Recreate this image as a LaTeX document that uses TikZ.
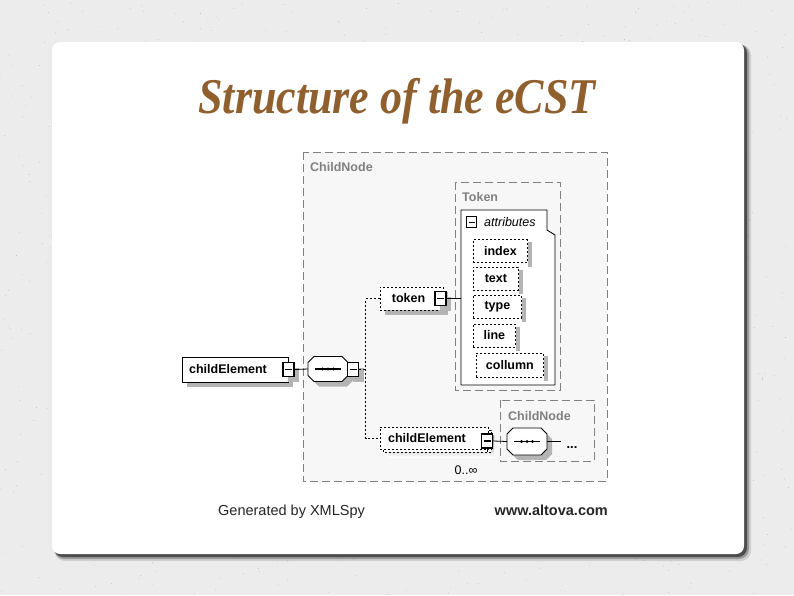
\documentclass[tikz,border=0pt]{standalone}
\usepackage{fontspec}
\setmainfont{Liberation Serif}
\newfontfamily\diafont{Liberation Sans}
\usetikzlibrary{shadows}
\definecolor{bggray}{HTML}{ECECEC}
\definecolor{titlebrown}{HTML}{8F5F2E}
\definecolor{boxgray}{HTML}{808080}
\definecolor{shade}{HTML}{B4B4B4}
\definecolor{areagray}{HTML}{F7F7F7}
\tikzset{
  grpbox/.style={draw=boxgray, dash pattern=on 8pt off 4pt, line width=0.9pt},
  grplabel/.style={text=boxgray, font=\diafont\bfseries\fontsize{12.5}{14}\selectfont, anchor=west, inner sep=0},
  elem/.style={draw=black, fill=white, font=\diafont\bfseries\fontsize{12.5}{14}\selectfont, inner sep=0, line width=0.8pt},
  optelem/.style={elem, dash pattern=on 2pt off 2pt},
  shad/.style={drop shadow={shadow xshift=5pt, shadow yshift=-5pt, fill=shade, opacity=1}},
  minusbox/.style={draw=black, fill=white, line width=1.6pt, minimum width=11pt, minimum height=14pt, inner sep=0,
    path picture={\draw[line width=1.3pt] ([xshift=2pt]path picture bounding box.west) -- ([xshift=-2pt]path picture bounding box.east);}},
  seqbox/.style={inner sep=0, outer sep=0},
  octshad/.style={fill=shade},
  octmain/.style={fill=white, draw=black, line width=0.8pt},
  conn/.style={draw=black, line width=0.8pt},
  dconn/.style={draw=black, line width=0.8pt, dash pattern=on 2pt off 2pt},
  ashad/.style={fill=shade},
}
\begin{document}
\begin{tikzpicture}[x=1pt,y=-1pt]
\useasboundingbox (0,0) rectangle (794,595);
% background with speckles
\fill[bggray] (0,0) rectangle (794,595);
\pgfmathsetseed{7}
\foreach \i in {1,...,900} {
  \fill[gray!55] (rnd*794, rnd*595) circle (0.45pt);
}
% card shadow and card
\fill[black, opacity=0.12, rounded corners=10pt] (55,45) rectangle (751,561);
\fill[black, opacity=0.25, rounded corners=10pt] (54,44) rectangle (749,559);
\fill[black!70, rounded corners=9pt] (54,44) rectangle (747,557);
\fill[white, rounded corners=8pt] (52,42) rectangle (744,554);

% title
\node[anchor=base, text=titlebrown, inner sep=0] (title) at (397,113)
  {\scalebox{0.88}[1]{\fontsize{50}{56}\selectfont\bfseries\itshape Structure of the eCST}};

% outer ChildNode group
\draw[grpbox, fill=areagray] (303,152) rectangle (607,481);
\node[grplabel] (lblChild) at (310,167) {ChildNode};

% Token group
\draw[grpbox] (455,182) rectangle (560,390);
\node[grplabel] (lblToken) at (462,197) {Token};

% attributes container
\draw[line width=0.9pt, fill=white] (461,210) -- (547,210) -- (547,230) -- (555,235) -- (555,385) -- (461,385) -- cycle;
\node[draw=black, fill=white, line width=1.1pt, minimum width=10pt, minimum height=11pt, inner sep=0,
  path picture={\draw[line width=1pt] ([xshift=2pt]path picture bounding box.west) -- ([xshift=-2pt]path picture bounding box.east);}]
  (amin) at (471.5,222) {};
\node[anchor=west, inner sep=0, font=\diafont\itshape\fontsize{12.5}{14}\selectfont] (alabel) at (484,222) {attributes};
\coordinate (attrL) at (461,298.5);

% attribute items
\node[optelem, anchor=west, minimum width=54pt, minimum height=23pt] (aindex) at (473,251) {index};
\node[optelem, anchor=west, minimum width=45pt, minimum height=23pt] (atext) at (473,278.5) {text};
\node[optelem, anchor=west, minimum width=48pt, minimum height=23pt] (atype) at (473,306.5) {type};
\node[optelem, anchor=west, minimum width=42pt, minimum height=23pt] (aline) at (473,335.5) {line};
\node[optelem, anchor=west, minimum width=67pt, minimum height=24pt] (acol) at (476,365) {collumn};
\foreach \a in {aindex,atext,atype,aline,acol} {
  \fill[ashad] ([xshift=0.5pt,yshift=-3pt]\a.north east) rectangle ([xshift=4.5pt,yshift=-4pt]\a.south east);
}

% root element
\node[elem, shad, minimum width=106pt, minimum height=25pt] (root) at (235,369.5) {\hspace*{-14pt}childElement};
\node[minusbox, shad] (m1) at (288.5,369.5) {};

% sequence compositors (octagons drawn around invisible nodes)
\node[seqbox, minimum width=40pt, minimum height=25pt] (s1sh) at (333,374) {};
\node[seqbox, minimum width=40pt, minimum height=25pt] (s1) at (328,369) {};
\node[seqbox, minimum width=40pt, minimum height=27pt] (s2sh) at (532,446.5) {};
\node[seqbox, minimum width=40pt, minimum height=27pt] (s2) at (527,441.5) {};
\foreach \s/\st in {s1sh/octshad, s1/octmain, s2sh/octshad, s2/octmain} {
  \path[\st] ([xshift=6pt]\s.north west) -- ([xshift=-6pt]\s.north east) -- ([yshift=-6pt]\s.north east)
    -- ([yshift=6pt]\s.south east) -- ([xshift=-6pt]\s.south east) -- ([xshift=6pt]\s.south west)
    -- ([yshift=6pt]\s.south west) -- ([yshift=-6pt]\s.north west) -- cycle;
}
\foreach \s in {s1,s2} {
  \draw[line width=1.1pt] ([xshift=-13pt]\s.center) -- ([xshift=13pt]\s.center);
  \foreach \d in {-5.5,0,5.5} \fill ([xshift=\d pt]\s.center) circle (1.6pt);
}
\node[minusbox, shad] (m2) at (353,369.5) {};
\draw[conn] (m1.east) -- (s1.west);
\coordinate (seqJ) at (366,369.5);
\draw[dconn] (m2.east) -- (seqJ);

% token element
\node[optelem, shad, minimum width=63pt, minimum height=23pt] (token) at (411.5,298.5) {\hspace*{-6pt}token};
\node[minusbox, shad] (m3) at (440.5,298.5) {};
\draw[conn] (m3.east) -- (attrL);

% childElement (repeating)
\fill[shade] (388,435) rectangle (494,457);
\draw[line width=0.8pt, dash pattern=on 2pt off 2pt, fill=white] (383,430) rectangle (491,452);
\node[optelem, minimum width=108pt, minimum height=22pt] (c2) at (434,438) {\hspace*{-14pt}childElement};
\node[minusbox, line width=1.1pt] (m4) at (487,441) {};
\draw[conn] (m4.south) -- ++(0,3);
\node[inner sep=0, font=\diafont\fontsize{12.5}{14}\selectfont] (occ) at (466,470) {0..∞};

% dashed branch connectors
\draw[dconn] (token.west) -- ++(-14,0) |- (c2.west);

% inner ChildNode group
\draw[grpbox] (500,400) rectangle (594,461);
\node[grplabel] (lblChild2) at (508,416) {ChildNode};
\draw[conn] (m4.east) -- (s2.west);
\coordinate (s2end) at (561,441.5);
\draw[conn] (s2.east) -- (s2end);
\node[inner sep=0, font=\diafont\bfseries\fontsize{13}{14}\selectfont] (dots) at (572,448) {...};

% footer
\node[anchor=base west, inner sep=0, font=\diafont\fontsize{14.5}{16}\selectfont, text=black!85] (gen) at (218,515) {Generated by XMLSpy};
\node[anchor=base east, inner sep=0, font=\diafont\bfseries\fontsize{14.5}{16}\selectfont, text=black!85] (web) at (608,515) {www.altova.com};
\end{tikzpicture}
\end{document}
